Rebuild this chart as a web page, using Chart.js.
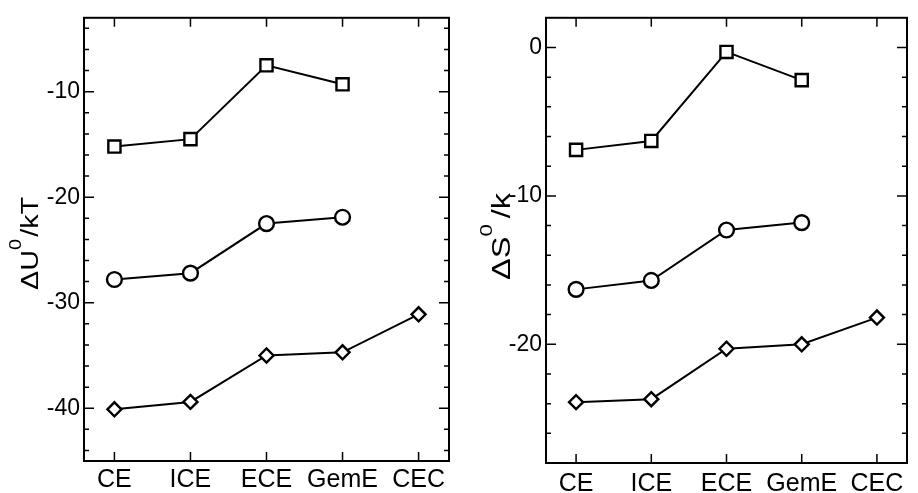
<!DOCTYPE html>
<html>
<head>
<meta charset="utf-8">
<script src="https://cdn.jsdelivr.net/npm/chart.js@4/dist/chart.umd.min.js"></script>
<style>
  html, body { margin: 0; padding: 0; background: #fff; }
  #wrap { position: relative; width: 918px; height: 493px; overflow: hidden; background: #fff; }
  #wrap canvas { position: absolute; top: 0; }
</style>
</head>
<body>
<div id="wrap">
  <canvas id="energyChart" width="460" height="493" style="left:0"></canvas>
  <canvas id="entropyChart" width="458" height="493" style="left:460px"></canvas>
</div>
<script>
const categories = ['CE', 'ICE', 'ECE', 'GemE', 'CEC'];

// ΔU0/kT
const energySquares  = [-15.2, -14.5, -7.5, -9.3];
const energyCircles  = [-27.8, -27.2, -22.5, -21.9];
const energyDiamonds = [-40.1, -39.4, -35.0, -34.7, -31.1];
const energyTicks    = [-40, -30, -20, -10];

// ΔS0/k
const entropySquares  = [-6.9, -6.3, -0.3, -2.2];
const entropyCircles  = [-16.3, -15.7, -12.3, -11.8];
const entropyDiamonds = [-23.9, -23.7, -20.3, -20.0, -18.2];
const entropyTicks    = [-20, -10, 0];

const FONT = '"Liberation Sans", Arial, Helvetica, sans-serif';

function toPoints(values) {
  return values.map((v, i) => ({ x: i, y: v }));
}

function series(values, style, radius) {
  return {
    data: toPoints(values),
    borderColor: '#000',
    borderWidth: 2,
    pointStyle: style,
    pointRadius: radius,
    pointHoverRadius: radius,
    pointBackgroundColor: '#fff',
    pointBorderColor: '#000',
    pointBorderWidth: 2.4,
    tension: 0,
    fill: false
  };
}

// Closed frame, inward tick marks and a y title with a superscript
const framePlugin = {
  id: 'frameTicks',
  beforeDatasetsDraw(chart, args, opts) {
    const { ctx, chartArea: a, scales: { x, y } } = chart;
    ctx.save();
    ctx.strokeStyle = '#000';
    ctx.lineWidth = 1.5;
    ctx.beginPath();
    for (let v = opts.minorFrom; v <= opts.minorTo + 1e-9; v += opts.minorStep) {
      const py = y.getPixelForValue(v);
      const len = opts.majors.includes(v) ? 10 : 5;
      ctx.moveTo(a.left, py); ctx.lineTo(a.left + len, py);
      ctx.moveTo(a.right, py); ctx.lineTo(a.right - len, py);
    }
    categories.forEach((c, i) => {
      const px = x.getPixelForValue(i);
      ctx.moveTo(px, a.bottom); ctx.lineTo(px, a.bottom - 9);
      ctx.moveTo(px, a.top); ctx.lineTo(px, a.top + 9);
    });
    ctx.stroke();
    ctx.lineWidth = 2;
    ctx.strokeRect(a.left, a.top, a.right - a.left, a.bottom - a.top);

    // axis title: main text, raised superscript, rest (slightly widened glyphs)
    const t = opts.title;
    ctx.fillStyle = '#000';
    ctx.textBaseline = 'alphabetic';
    ctx.textAlign = 'left';
    const mainFont = t.size + 'px ' + FONT;
    const supFont = t.supSize + 'px ' + FONT;
    ctx.font = mainFont;
    const w1 = ctx.measureText(t.before).width;
    const w3 = ctx.measureText(t.after).width;
    ctx.font = supFont;
    const w2 = ctx.measureText(t.sup).width;
    const total = (w1 + w2 + w3) * t.stretch + t.gapBefore + t.gapAfter;
    ctx.translate(a.left - t.baselineOffset, (a.top + a.bottom) / 2 + t.shift);
    ctx.rotate(-Math.PI / 2);
    ctx.translate(-total / 2, 0);
    ctx.font = mainFont;
    ctx.save(); ctx.scale(t.stretch, 1); ctx.fillText(t.before, 0, 0); ctx.restore();
    ctx.translate(w1 * t.stretch + t.gapBefore, 0);
    ctx.font = supFont;
    ctx.save(); ctx.scale(t.stretch, 1); ctx.fillText(t.sup, 0, -t.raise); ctx.restore();
    ctx.translate(w2 * t.stretch + t.gapAfter, 0);
    ctx.font = mainFont;
    ctx.save(); ctx.scale(t.stretch, 1); ctx.fillText(t.after, 0, 0); ctx.restore();
    ctx.restore();
  }
};

function makeChart(id, cfg) {
  return new Chart(document.getElementById(id), {
    type: 'line',
    data: {
      datasets: [
        series(cfg.squares, 'rect', 8.6),
        series(cfg.circles, 'circle', 7.4),
        series(cfg.diamonds, 'rectRot', 7)
      ]
    },
    options: {
      responsive: false,
      animation: false,
      devicePixelRatio: 1,
      events: [],
      layout: { padding: { top: cfg.padTop, right: cfg.padRight, left: 0, bottom: 0 } },
      plugins: {
        legend: { display: false },
        tooltip: { enabled: false },
        frameTicks: {
          minorFrom: cfg.minorFrom, minorTo: cfg.minorTo, minorStep: 2,
          majors: cfg.ticks,
          title: cfg.title
        }
      },
      scales: {
        x: {
          type: 'linear',
          min: -0.4,
          max: 4.4,
          afterBuildTicks: s => { s.ticks = categories.map((c, i) => ({ value: i })); },
          afterFit: s => { s.height = cfg.xHeight; },
          grid: { display: false, drawTicks: false },
          border: { display: false },
          ticks: {
            padding: cfg.xPad,
            color: '#000',
            font: { family: FONT, size: 25 },
            maxRotation: 0,
            autoSkip: false,
            callback: v => categories[v]
          }
        },
        y: {
          type: 'linear',
          min: cfg.min,
          max: cfg.max,
          afterBuildTicks: s => { s.ticks = cfg.ticks.map(v => ({ value: v })); },
          afterFit: s => { s.width = cfg.yWidth; },
          grid: { display: false, drawTicks: false },
          border: { display: false },
          ticks: {
            padding: 4,
            color: '#000',
            font: { family: FONT, size: 23 },
            callback: v => String(v)
          }
        }
      }
    },
    plugins: [framePlugin]
  });
}

makeChart('energyChart', {
  squares: energySquares, circles: energyCircles, diamonds: energyDiamonds,
  ticks: energyTicks, min: -45, max: -3, minorFrom: -44, minorTo: -4,
  padTop: 14, padRight: 10, yWidth: 84, xHeight: 32, xPad: 4,
  title: { before: 'ΔU', sup: '0', after: '/kT', size: 23, supSize: 16, raise: 17, stretch: 1.25, gapBefore: 0, gapAfter: 2, baselineOffset: 46, shift: 4 }
});

makeChart('entropyChart', {
  squares: entropySquares, circles: entropyCircles, diamonds: entropyDiamonds,
  ticks: entropyTicks, min: -28, max: 2, minorFrom: -26, minorTo: 0,
  padTop: 13, padRight: 2, yWidth: 86, xHeight: 30, xPad: 6,
  title: { before: 'ΔS', sup: '0', after: '/k', size: 25, supSize: 17, raise: 18, stretch: 1.3, gapBefore: 0, gapAfter: 6, baselineOffset: 36, shift: -4 }
});
</script>
</body>
</html>
